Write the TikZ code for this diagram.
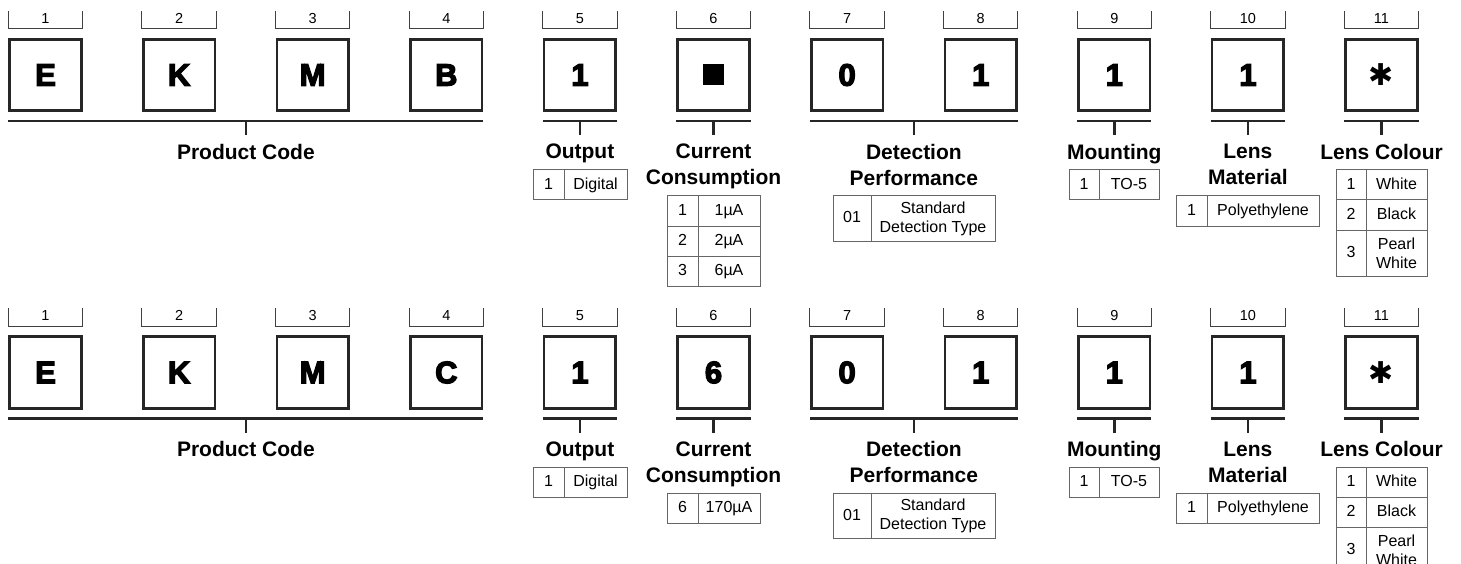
\documentclass[tikz,border=0pt]{standalone}
\usepackage{fontspec}
\setmainfont{Liberation Sans}
\newfontfamily\heavyfont{Liberation Sans Bold}[FakeBold=4]
\newfontfamily\symfont{DejaVu Sans}
\usetikzlibrary{positioning}
\tikzstyle{digit} = [rectangle, draw=black!85, line width=2.6pt, minimum size=71.5pt,
    inner sep=0pt, font=\heavyfont\fontsize{31}{31}\selectfont]
\tikzstyle{index} = [rectangle, minimum width=74pt, minimum height=18pt, inner sep=0pt,
    text depth=3pt, font=\fontsize{14.5}{14.5}\selectfont]
\tikzstyle{bracket} = [draw=black!75, line width=1.1pt]
\tikzstyle{bar} = [draw=black!85, line width=2.6pt]
\tikzstyle{field} = [inner sep=0pt, align=center, font=\bfseries\fontsize{21}{26}\selectfont]
\tikzstyle{cell} = [rectangle, draw=black!60, line width=1pt, inner sep=0pt, outer sep=0pt,
    minimum height=30pt, align=center, font=\fontsize{16}{19}\selectfont]
\tikzstyle{key} = [cell, text height=11.5pt, text depth=3.4pt]
\tikzstyle{value} = [key]
\tikzstyle{blank} = [rectangle, fill=black, minimum size=21pt, inner sep=0pt]
\newcommand{\starmark}{{\symfont\fontsize{30}{30}\selectfont ✱}}

\begin{document}
\begin{tikzpicture}[x=1pt, y=-1pt]
	\useasboundingbox (0,0) rectangle (1461,564);

	% first code: EKMB1x011 1 *
	\node [digit] (t1) at (45.5,75) {E};
	\node [digit] (t2) at (179.1,75) {K};
	\node [digit] (t3) at (312.7,75) {M};
	\node [digit] (t4) at (446.3,75) {B};
	\node [digit] (t5) at (579.9,75) {1};
	\node [digit] (t6) at (713.5,75) {};
	\node [blank] (tsq) at (t6) {};
	\node [digit] (t7) at (847.1,75) {0};
	\node [digit] (t8) at (980.7,75) {1};
	\node [digit] (t9) at (1114.3,75) {1};
	\node [digit] (t10) at (1247.9,75) {1};
	\node [digit] (t11) at (1381.5,75) {\starmark};

	\node [index, above=9pt of t1] (ti1) {1};
	\node [index, above=9pt of t2] (ti2) {2};
	\node [index, above=9pt of t3] (ti3) {3};
	\node [index, above=9pt of t4] (ti4) {4};
	\node [index, above=9pt of t5] (ti5) {5};
	\node [index, above=9pt of t6] (ti6) {6};
	\node [index, above=9pt of t7] (ti7) {7};
	\node [index, above=9pt of t8] (ti8) {8};
	\node [index, above=9pt of t9] (ti9) {9};
	\node [index, above=9pt of t10] (ti10) {10};
	\node [index, above=9pt of t11] (ti11) {11};
	\draw [bracket] (ti1.north west) |- (ti1.south east) -- (ti1.north east);
	\draw [bracket] (ti2.north west) |- (ti2.south east) -- (ti2.north east);
	\draw [bracket] (ti3.north west) |- (ti3.south east) -- (ti3.north east);
	\draw [bracket] (ti4.north west) |- (ti4.south east) -- (ti4.north east);
	\draw [bracket] (ti5.north west) |- (ti5.south east) -- (ti5.north east);
	\draw [bracket] (ti6.north west) |- (ti6.south east) -- (ti6.north east);
	\draw [bracket] (ti7.north west) |- (ti7.south east) -- (ti7.north east);
	\draw [bracket] (ti8.north west) |- (ti8.south east) -- (ti8.north east);
	\draw [bracket] (ti9.north west) |- (ti9.south east) -- (ti9.north east);
	\draw [bracket] (ti10.north west) |- (ti10.south east) -- (ti10.north east);
	\draw [bracket] (ti11.north west) |- (ti11.south east) -- (ti11.north east);

	\draw [bar] ([yshift=-9pt]t1.south west) -- coordinate[midway] (tprodbar) ([yshift=-9pt]t4.south east);
	\draw [bar] ([yshift=-9pt]t5.south west) -- coordinate[midway] (toutbar) ([yshift=-9pt]t5.south east);
	\draw [bar] ([yshift=-9pt]t6.south west) -- coordinate[midway] (tcurbar) ([yshift=-9pt]t6.south east);
	\draw [bar] ([yshift=-9pt]t7.south west) -- coordinate[midway] (tdetbar) ([yshift=-9pt]t8.south east);
	\draw [bar] ([yshift=-9pt]t9.south west) -- coordinate[midway] (tmntbar) ([yshift=-9pt]t9.south east);
	\draw [bar] ([yshift=-9pt]t10.south west) -- coordinate[midway] (tmatbar) ([yshift=-9pt]t10.south east);
	\draw [bar] ([yshift=-9pt]t11.south west) -- coordinate[midway] (tcolbar) ([yshift=-9pt]t11.south east);

	\node [field, below=23pt of tprodbar] (tprod) {Product Code};
	\node [field, below=23pt of toutbar] (tout) {Output};
	\node [field, below=23pt of tcurbar] (tcur) {Current\\Consumption};
	\node [field, below=23pt of tdetbar] (tdet) {Detection\\Performance};
	\node [field, below=23pt of tmntbar] (tmnt) {Mounting};
	\node [field, below=23pt of tmatbar] (tmat) {Lens\\Material};
	\node [field, below=23pt of tcolbar] (tcol) {Lens Colour};
	\draw [bar] (tprodbar) -- ([yshift=9pt]tprod.north);
	\draw [bar] (toutbar) -- ([yshift=9pt]tout.north);
	\draw [bar] (tcurbar) -- ([yshift=9pt]tcur.north);
	\draw [bar] (tdetbar) -- ([yshift=9pt]tdet.north);
	\draw [bar] (tmntbar) -- ([yshift=9pt]tmnt.north);
	\draw [bar] (tmatbar) -- ([yshift=9pt]tmat.north);
	\draw [bar] (tcolbar) -- ([yshift=9pt]tcol.north);

	% tables, first code
	\node [key, minimum width=31pt, anchor=north west] (toutk1) at (533,170) {1};
	\node [value, minimum width=63pt, right=0pt of toutk1] (toutv1) {Digital};

	\node [key, minimum width=31pt, anchor=north west] (tcurk1) at (667,196) {1};
	\node [value, minimum width=62pt, right=0pt of tcurk1] (tcurv1) {1µA};
	\node [key, minimum width=31pt, below=0pt of tcurk1] (tcurk2) {2};
	\node [value, minimum width=62pt, right=0pt of tcurk2] (tcurv2) {2µA};
	\node [key, minimum width=31pt, below=0pt of tcurk2] (tcurk3) {3};
	\node [value, minimum width=62pt, right=0pt of tcurk3] (tcurv3) {6µA};

	\node [key, minimum width=38pt, minimum height=45pt, anchor=north west] (tdetk1) at (833,196) {01};
	\node [cell, minimum width=124pt, minimum height=45pt, right=0pt of tdetk1] (tdetv1) {Standard\\Detection Type};

	\node [key, minimum width=30pt, anchor=north west] (tmntk1) at (1069,170) {1};
	\node [value, minimum width=60pt, right=0pt of tmntk1] (tmntv1) {TO-5};

	\node [key, minimum width=31pt, anchor=north west] (tmatk1) at (1176,196) {1};
	\node [value, minimum width=112pt, right=0pt of tmatk1] (tmatv1) {Polyethylene};

	\node [key, minimum width=30pt, anchor=north west] (tcolk1) at (1336,170) {1};
	\node [value, minimum width=61pt, right=0pt of tcolk1] (tcolv1) {White};
	\node [key, minimum width=30pt, below=0pt of tcolk1] (tcolk2) {2};
	\node [value, minimum width=61pt, right=0pt of tcolk2] (tcolv2) {Black};
	\node [key, minimum width=30pt, minimum height=46pt, below=0pt of tcolk2] (tcolk3) {3};
	\node [cell, minimum width=61pt, minimum height=46pt, right=0pt of tcolk3] (tcolv3) {Pearl\\White};

	% second code: EKMC16011 1 *
	\node [digit] (u1) at (45.5,372.5) {E};
	\node [digit] (u2) at (179.1,372.5) {K};
	\node [digit] (u3) at (312.7,372.5) {M};
	\node [digit] (u4) at (446.3,372.5) {C};
	\node [digit] (u5) at (579.9,372.5) {1};
	\node [digit] (u6) at (713.5,372.5) {6};
	\node [digit] (u7) at (847.1,372.5) {0};
	\node [digit] (u8) at (980.7,372.5) {1};
	\node [digit] (u9) at (1114.3,372.5) {1};
	\node [digit] (u10) at (1247.9,372.5) {1};
	\node [digit] (u11) at (1381.5,372.5) {\starmark};

	\node [index, above=9pt of u1] (ui1) {1};
	\node [index, above=9pt of u2] (ui2) {2};
	\node [index, above=9pt of u3] (ui3) {3};
	\node [index, above=9pt of u4] (ui4) {4};
	\node [index, above=9pt of u5] (ui5) {5};
	\node [index, above=9pt of u6] (ui6) {6};
	\node [index, above=9pt of u7] (ui7) {7};
	\node [index, above=9pt of u8] (ui8) {8};
	\node [index, above=9pt of u9] (ui9) {9};
	\node [index, above=9pt of u10] (ui10) {10};
	\node [index, above=9pt of u11] (ui11) {11};
	\draw [bracket] (ui1.north west) |- (ui1.south east) -- (ui1.north east);
	\draw [bracket] (ui2.north west) |- (ui2.south east) -- (ui2.north east);
	\draw [bracket] (ui3.north west) |- (ui3.south east) -- (ui3.north east);
	\draw [bracket] (ui4.north west) |- (ui4.south east) -- (ui4.north east);
	\draw [bracket] (ui5.north west) |- (ui5.south east) -- (ui5.north east);
	\draw [bracket] (ui6.north west) |- (ui6.south east) -- (ui6.north east);
	\draw [bracket] (ui7.north west) |- (ui7.south east) -- (ui7.north east);
	\draw [bracket] (ui8.north west) |- (ui8.south east) -- (ui8.north east);
	\draw [bracket] (ui9.north west) |- (ui9.south east) -- (ui9.north east);
	\draw [bracket] (ui10.north west) |- (ui10.south east) -- (ui10.north east);
	\draw [bracket] (ui11.north west) |- (ui11.south east) -- (ui11.north east);

	\draw [bar] ([yshift=-9pt]u1.south west) -- coordinate[midway] (uprodbar) ([yshift=-9pt]u4.south east);
	\draw [bar] ([yshift=-9pt]u5.south west) -- coordinate[midway] (uoutbar) ([yshift=-9pt]u5.south east);
	\draw [bar] ([yshift=-9pt]u6.south west) -- coordinate[midway] (ucurbar) ([yshift=-9pt]u6.south east);
	\draw [bar] ([yshift=-9pt]u7.south west) -- coordinate[midway] (udetbar) ([yshift=-9pt]u8.south east);
	\draw [bar] ([yshift=-9pt]u9.south west) -- coordinate[midway] (umntbar) ([yshift=-9pt]u9.south east);
	\draw [bar] ([yshift=-9pt]u10.south west) -- coordinate[midway] (umatbar) ([yshift=-9pt]u10.south east);
	\draw [bar] ([yshift=-9pt]u11.south west) -- coordinate[midway] (ucolbar) ([yshift=-9pt]u11.south east);

	\node [field, below=23pt of uprodbar] (uprod) {Product Code};
	\node [field, below=23pt of uoutbar] (uout) {Output};
	\node [field, below=23pt of ucurbar] (ucur) {Current\\Consumption};
	\node [field, below=23pt of udetbar] (udet) {Detection\\Performance};
	\node [field, below=23pt of umntbar] (umnt) {Mounting};
	\node [field, below=23pt of umatbar] (umat) {Lens\\Material};
	\node [field, below=23pt of ucolbar] (ucol) {Lens Colour};
	\draw [bar] (uprodbar) -- ([yshift=9pt]uprod.north);
	\draw [bar] (uoutbar) -- ([yshift=9pt]uout.north);
	\draw [bar] (ucurbar) -- ([yshift=9pt]ucur.north);
	\draw [bar] (udetbar) -- ([yshift=9pt]udet.north);
	\draw [bar] (umntbar) -- ([yshift=9pt]umnt.north);
	\draw [bar] (umatbar) -- ([yshift=9pt]umat.north);
	\draw [bar] (ucolbar) -- ([yshift=9pt]ucol.north);

	% tables, second code
	\node [key, minimum width=31pt, anchor=north west] (uoutk1) at (533,467.5) {1};
	\node [value, minimum width=63pt, right=0pt of uoutk1] (uoutv1) {Digital};

	\node [key, minimum width=31pt, anchor=north west] (ucurk1) at (667,493.5) {6};
	\node [value, minimum width=62pt, right=0pt of ucurk1] (ucurv1) {170µA};

	\node [key, minimum width=38pt, minimum height=45pt, anchor=north west] (udetk1) at (833,493.5) {01};
	\node [cell, minimum width=124pt, minimum height=45pt, right=0pt of udetk1] (udetv1) {Standard\\Detection Type};

	\node [key, minimum width=30pt, anchor=north west] (umntk1) at (1069,467.5) {1};
	\node [value, minimum width=60pt, right=0pt of umntk1] (umntv1) {TO-5};

	\node [key, minimum width=31pt, anchor=north west] (umatk1) at (1176,493.5) {1};
	\node [value, minimum width=112pt, right=0pt of umatk1] (umatv1) {Polyethylene};

	\node [key, minimum width=30pt, anchor=north west] (ucolk1) at (1336,467.5) {1};
	\node [value, minimum width=61pt, right=0pt of ucolk1] (ucolv1) {White};
	\node [key, minimum width=30pt, below=0pt of ucolk1] (ucolk2) {2};
	\node [value, minimum width=61pt, right=0pt of ucolk2] (ucolv2) {Black};
	\node [key, minimum width=30pt, minimum height=46pt, below=0pt of ucolk2] (ucolk3) {3};
	\node [cell, minimum width=61pt, minimum height=46pt, right=0pt of ucolk3] (ucolv3) {Pearl\\White};
\end{tikzpicture}
\end{document}
